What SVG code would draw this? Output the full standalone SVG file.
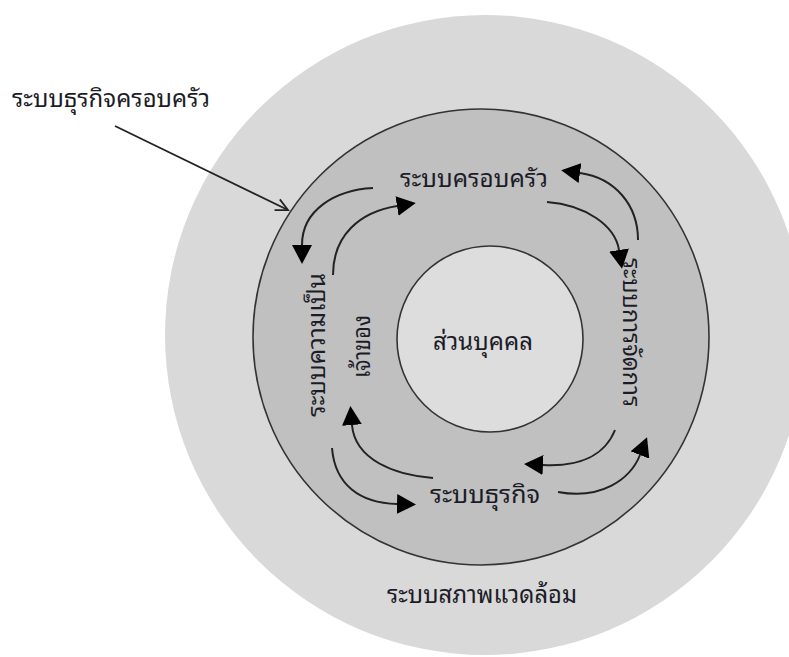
<svg xmlns="http://www.w3.org/2000/svg" width="789" height="657" viewBox="0 0 789 657">
  <style>
    .lbl { font-family: "Noto Sans Thai Looped", "Noto Serif Thai", "Loma", "Garuda", "Noto Sans Thai", "Noto Sans", "DejaVu Sans", sans-serif; font-size: 24px; fill: #1c1c28; }
    .flow { fill: none; stroke: #222; stroke-width: 2; marker-end: url(#head); }
    .ring { stroke: #333; stroke-width: 1.6; }
  </style>
  <defs>
    <marker id="head" markerUnits="userSpaceOnUse" markerWidth="20" markerHeight="20" refX="0" refY="10" orient="auto" viewBox="0 0 20 20">
      <path d="M0,0 L19,10 L0,20 z" fill="#000"/>
    </marker>
    <marker id="open" markerUnits="userSpaceOnUse" markerWidth="16" markerHeight="16" refX="13" refY="7" orient="auto" viewBox="0 0 16 14">
      <path d="M1,1 L13,7 L1,13" fill="none" stroke="#222" stroke-width="1.8"/>
    </marker>
  </defs>

  <rect width="789" height="657" fill="#fff"/>

  <!-- environment -->
  <g id="environment">
    <circle cx="485" cy="335" r="320" fill="#d9d9d9"/>
    <text class="lbl" x="387" y="603" textLength="190" lengthAdjust="spacingAndGlyphs">ระบบสภาพแวดล้อม</text>
  </g>

  <!-- family business ring -->
  <g id="family-business">
    <circle class="ring" cx="481" cy="337" r="228" fill="#c0c0c0"/>
  </g>

  <!-- individual core -->
  <g id="individual">
    <circle class="ring" cx="490" cy="339" r="93" fill="#dddddd"/>
    <text class="lbl" x="433" y="350" textLength="100" lengthAdjust="spacingAndGlyphs">ส่วนบุคคล</text>
  </g>

  <g id="family-system">
    <text class="lbl" x="400" y="187" textLength="148" lengthAdjust="spacingAndGlyphs">ระบบครอบครัว</text>
  </g>

  <g id="business-system">
    <text class="lbl" x="430" y="503" textLength="110" lengthAdjust="spacingAndGlyphs">ระบบธุรกิจ</text>
  </g>

  <g id="ownership-system">
    <text class="lbl" transform="translate(325,417) rotate(-90)" textLength="144" lengthAdjust="spacingAndGlyphs">ระบบความเป็น</text>
    <text class="lbl" transform="translate(370,378) rotate(-90)" textLength="63" lengthAdjust="spacingAndGlyphs">เจ้าของ</text>
  </g>

  <g id="management-system">
    <text class="lbl" transform="translate(623,258) rotate(90)" textLength="149" lengthAdjust="spacingAndGlyphs">ระบบการจัดการ</text>
  </g>

  <g id="title">
    <text class="lbl" x="12" y="107" textLength="198" lengthAdjust="spacingAndGlyphs">ระบบธุรกิจครอบครัว</text>
  </g>

  <!-- connectors -->
  <g id="connectors">
    <path d="M115,126 L288,210" fill="none" stroke="#222" stroke-width="1.8" marker-end="url(#open)"/>
    <path class="flow" d="M373,188 C335,190 302,210 302,245"/>
    <path class="flow" d="M333,275 C333,235 360,212 397,206"/>
    <path class="flow" d="M547,202 C585,205 615,225 619,250"/>
    <path class="flow" d="M638,240 C638,205 615,178 580,173"/>
    <path class="flow" d="M433,478 C395,475 355,460 352,425"/>
    <path class="flow" d="M332,448 C335,485 360,503 397,504"/>
    <path class="flow" d="M615,430 C605,455 580,467 543,465"/>
    <path class="flow" d="M558,492 C600,500 630,480 640,455"/>
  </g>
</svg>
